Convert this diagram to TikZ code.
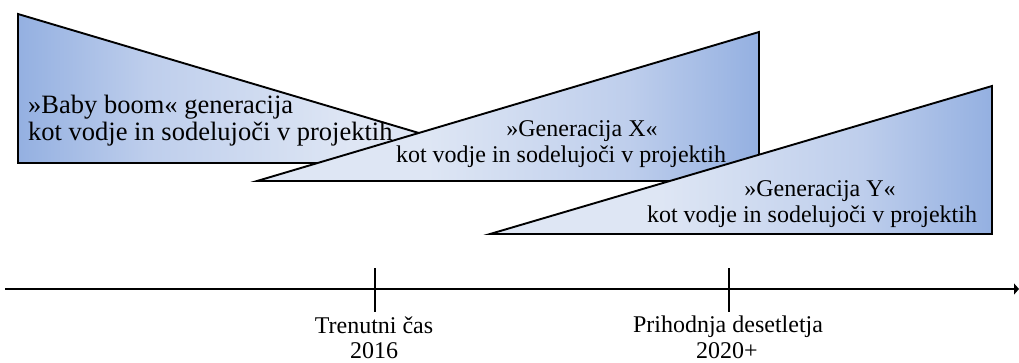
\documentclass[tikz,border=0pt]{standalone}
\usepackage{fontspec}
\setmainfont{Liberation Serif}
\usetikzlibrary{arrows.meta}

\definecolor{genlight}{RGB}{222,230,244}
\definecolor{genmid}{RGB}{190,206,236}
\definecolor{gendark}{RGB}{148,176,225}

% light on the left, darkening towards the right
\pgfdeclarehorizontalshading{genrise}{100bp}{%
  color(0bp)=(genlight); color(25bp)=(genlight); color(42bp)=(genlight);
  color(62bp)=(genmid); color(75bp)=(gendark); color(100bp)=(gendark)}
% dark on the left, lightening towards the right
\pgfdeclarehorizontalshading{genfall}{100bp}{%
  color(0bp)=(gendark); color(25bp)=(gendark); color(38bp)=(genmid);
  color(58bp)=(genlight); color(75bp)=(genlight); color(100bp)=(genlight)}

\tikzset{
  wedge/.style={draw=black, line width=1.9pt, line join=miter},
  boomlabel/.style={inner sep=0pt, anchor=base west, font=\fontsize{26.5}{27}\selectfont},
  genlabel/.style={inner sep=0pt, anchor=base, font=\fontsize{24}{26}\selectfont},
  axislabel/.style={inner sep=0pt, anchor=base, font=\fontsize{24}{24}\selectfont},
  timeaxis/.style={line width=1.8pt, -{Triangle[length=5pt,width=11pt]}},
  tickmark/.style={line width=1.4pt}
}

\begin{document}
\begin{tikzpicture}[x=1pt, y=-1pt]
\useasboundingbox (0,0) rectangle (1019,362);

% --- Baby boom generation (falling wedge)
\coordinate (b1) at (18,14);
\coordinate (b2) at (18,163);
\coordinate (b3) at (520,163);
\path[wedge, shading=genfall] (b1) -- (b3) -- (b2) -- cycle;
\node[boomlabel] (boomtitle) at (28,113) {»Baby boom« generacija};
\node[boomlabel] (boomsub) at (28,140) {kot vodje in sodelujoči v projektih};

% --- Generation X (rising wedge)
\coordinate (x1) at (257,181);
\coordinate (x2) at (759,32);
\coordinate (x3) at (759,181);
\path[wedge, shading=genrise] (x1) -- (x2) -- (x3) -- cycle;
\node[genlabel] (xtitle) at (582,136) {»Generacija X«};
\node[genlabel] (xsub) at (561,162) {kot vodje in sodelujoči v projektih};

% --- Generation Y (rising wedge)
\coordinate (y1) at (490,234);
\coordinate (y2) at (992,86);
\coordinate (y3) at (992,234);
\path[wedge, shading=genrise] (y1) -- (y2) -- (y3) -- cycle;
\node[genlabel] (ytitle) at (820,196) {»Generacija Y«};
\node[genlabel] (ysub) at (812,222) {kot vodje in sodelujoči v projektih};

% --- time axis with two marks
\coordinate (axstart) at (5,289);
\coordinate (axend) at (1019,289);
\draw[timeaxis] (axstart) -- (axend);

\coordinate (nowtop) at (375,268);
\coordinate (nowbot) at (375,312);
\draw[tickmark] (nowtop) -- (nowbot);
\node[axislabel] (nowtxt) at (374,333) {Trenutni čas};
\node[axislabel] (nowyear) at (374,358.5) {2016};

\coordinate (futtop) at (729,268);
\coordinate (futbot) at (729,312);
\draw[tickmark] (futtop) -- (futbot);
\node[axislabel] (futtxt) at (728,332) {Prihodnja desetletja};
\node[axislabel] (futyear) at (727,358.5) {2020+};
\end{tikzpicture}
\end{document}
